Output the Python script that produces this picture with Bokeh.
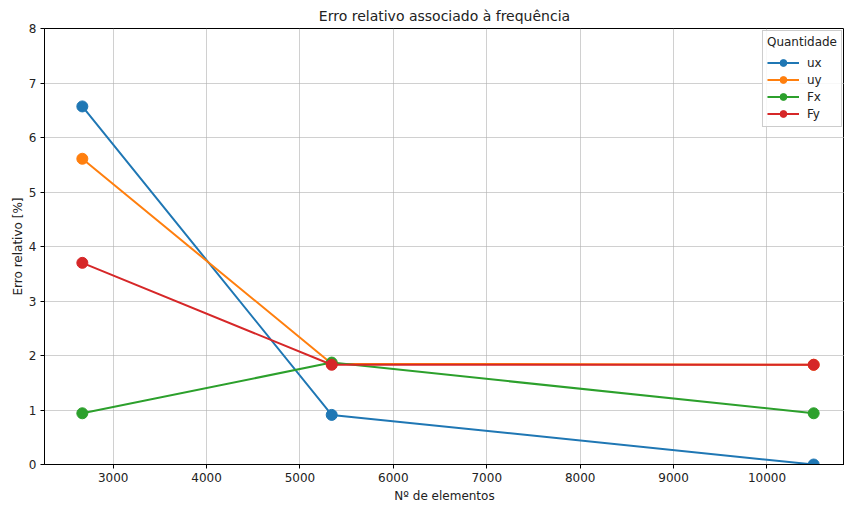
from bokeh.plotting import figure
from bokeh.models import Range1d, FixedTicker
from bokeh.embed import file_html
from bokeh.resources import INLINE

elements = [2670, 5340, 10500]
ux = [6.57, 0.91, 0.0]
uy = [5.61, 1.85, 1.83]
Fx = [0.94, 1.87, 0.94]
Fy = [3.70, 1.83, 1.83]
series_names = ["ux", "uy", "Fx", "Fy"]
series_values = [ux, uy, Fx, Fy]
colors = ["#1f77b4", "#ff7f0e", "#2ca02c", "#d62728"]
x_ticks = [3000, 4000, 5000, 6000, 7000, 8000, 9000, 10000]
y_ticks = [0, 1, 2, 3, 4, 5, 6, 7, 8]

FONT = "DejaVu Sans"

p = figure(width=844, height=505, output_backend="svg", toolbar_location=None,
           x_range=Range1d(2265, 10830), y_range=Range1d(0, 8),
           title="Erro relativo associado à frequência",
           min_border_left=44, min_border_right=0, min_border_top=28, min_border_bottom=41)

p.title.align = "center"
p.title.text_font = FONT
p.title.text_font_size = "14px"
p.title.text_font_style = "normal"
p.title.text_color = "#222222"

p.outline_line_color = "black"
p.outline_line_width = 1
p.outline_line_alpha = 1

for ax in (p.xaxis, p.yaxis):
    ax.axis_line_color = "black"
    ax.major_tick_line_color = "black"
    ax.major_tick_out = 4
    ax.major_tick_in = 0
    ax.minor_tick_line_color = None
    ax.major_label_text_font = FONT
    ax.major_label_text_font_size = "12px"
    ax.major_label_text_color = "#222222"
    ax.axis_label_text_font = FONT
    ax.axis_label_text_font_size = "12px"
    ax.axis_label_text_font_style = "normal"
    ax.axis_label_text_color = "#222222"

p.xaxis.ticker = FixedTicker(ticks=x_ticks)
p.yaxis.ticker = FixedTicker(ticks=y_ticks)
p.xaxis.axis_label = "Nº de elementos"
p.yaxis.axis_label = "Erro relativo [%]"
p.xaxis.major_label_standoff = 4
p.yaxis.major_label_standoff = 4
p.xaxis.axis_label_standoff = 4
p.yaxis.axis_label_standoff = 1

p.xgrid.ticker = FixedTicker(ticks=x_ticks)
p.ygrid.ticker = FixedTicker(ticks=y_ticks)
p.grid.grid_line_color = "#b0b0b0"
p.grid.grid_line_alpha = 0.6
p.grid.grid_line_width = 1

for name, vals, c in zip(series_names, series_values, colors):
    p.line(elements, vals, line_color=c, line_width=2, legend_label=name)
    p.scatter(elements, vals, size=11, fill_color=c, line_color=c, legend_label=name)

p.legend.location = "top_right"
p.legend.title = "Quantidade"
p.legend.title_text_font = FONT
p.legend.title_text_font_size = "12px"
p.legend.title_text_font_style = "normal"
p.legend.title_text_color = "#222222"
p.legend.label_text_font = FONT
p.legend.label_text_font_size = "12px"
p.legend.label_text_color = "#222222"
p.legend.border_line_color = "#cccccc"
p.legend.border_line_alpha = 1
p.legend.background_fill_alpha = 0.85
p.legend.margin = 2
p.legend.padding = 4
p.legend.spacing = 0
p.legend.label_height = 17
p.legend.glyph_height = 17
p.legend.glyph_width = 32
p.legend.label_standoff = 8

open("out.html", "w").write(file_html(p, INLINE))
